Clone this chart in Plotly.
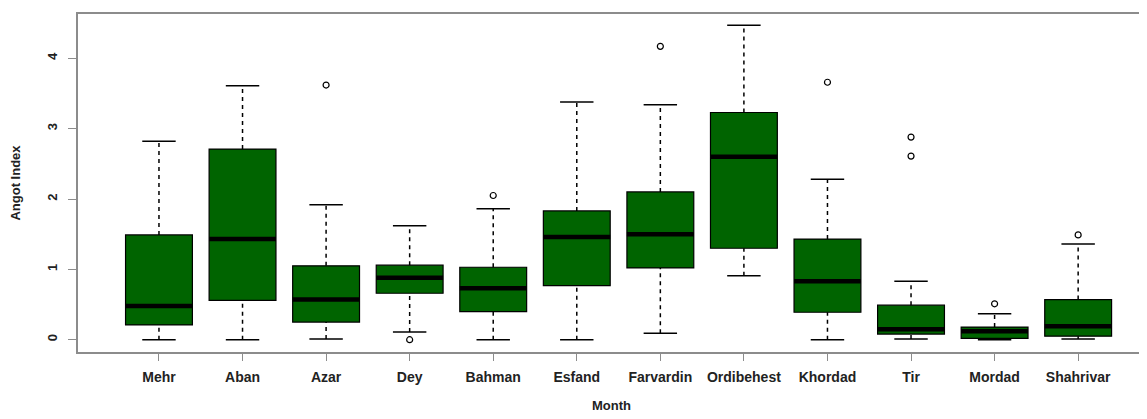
import plotly.graph_objects as go

months = ["Mehr", "Aban", "Azar", "Dey", "Bahman", "Esfand", "Farvardin",
          "Ordibehest", "Khordad", "Tir", "Mordad", "Shahrivar"]
lower_whisker = [0.00, 0.00, 0.01, 0.11, 0.00, 0.00, 0.09, 0.91, 0.00, 0.01, 0.00, 0.01]
q1 =            [0.21, 0.56, 0.25, 0.66, 0.40, 0.77, 1.02, 1.30, 0.39, 0.08, 0.02, 0.05]
median =        [0.48, 1.43, 0.57, 0.88, 0.73, 1.46, 1.50, 2.60, 0.83, 0.15, 0.12, 0.19]
q3 =            [1.49, 2.71, 1.05, 1.06, 1.03, 1.83, 2.10, 3.23, 1.43, 0.49, 0.18, 0.57]
upper_whisker = [2.82, 3.61, 1.92, 1.62, 1.86, 3.38, 3.34, 4.47, 2.28, 0.83, 0.37, 1.36]
outliers = {
    "Azar": [3.62],
    "Dey": [0.00],
    "Bahman": [2.05],
    "Farvardin": [4.17],
    "Khordad": [3.66],
    "Tir": [2.88, 2.61],
    "Mordad": [0.51],
    "Shahrivar": [1.49],
}
y_ticks = [0, 1, 2, 3, 4]

BOX_W = 0.8
CAP_W = 0.4
FILL = "#006400"

fig = go.Figure()
pos = list(range(1, len(months) + 1))

# boxes
for i, m in enumerate(months):
    fig.add_trace(go.Box(
        x=[pos[i]], q1=[q1[i]], median=[median[i]], q3=[q3[i]],
        lowerfence=[q1[i]], upperfence=[q3[i]],
        width=BOX_W, fillcolor=FILL, line=dict(color="black", width=1.2),
        boxpoints=False, showlegend=False, hoverinfo="skip",
    ))

# whiskers (dashed)
wx, wy = [], []
for i in range(len(months)):
    wx += [pos[i], pos[i], None, pos[i], pos[i], None]
    wy += [lower_whisker[i], q1[i], None, q3[i], upper_whisker[i], None]
fig.add_trace(go.Scatter(x=wx, y=wy, mode="lines",
                         line=dict(color="black", width=1.5, dash="4px,4px"),
                         showlegend=False, hoverinfo="skip"))

# caps
cx, cy = [], []
for i in range(len(months)):
    cx += [pos[i] - CAP_W / 2, pos[i] + CAP_W / 2, None,
           pos[i] - CAP_W / 2, pos[i] + CAP_W / 2, None]
    cy += [lower_whisker[i], lower_whisker[i], None,
           upper_whisker[i], upper_whisker[i], None]
fig.add_trace(go.Scatter(x=cx, y=cy, mode="lines",
                         line=dict(color="black", width=1.5),
                         showlegend=False, hoverinfo="skip"))

# thick medians
mx, my = [], []
for i in range(len(months)):
    mx += [pos[i] - BOX_W / 2, pos[i] + BOX_W / 2, None]
    my += [median[i], median[i], None]
fig.add_trace(go.Scatter(x=mx, y=my, mode="lines",
                         line=dict(color="black", width=4.5),
                         showlegend=False, hoverinfo="skip"))

# outliers
ox, oy = [], []
for m, vals in outliers.items():
    k = months.index(m) + 1
    for v in vals:
        ox.append(k)
        oy.append(v)
fig.add_trace(go.Scatter(x=ox, y=oy, mode="markers",
                         marker=dict(symbol="circle-open", size=6,
                                     color="black", line=dict(width=1.2)),
                         showlegend=False, hoverinfo="skip"))

fig.update_layout(
    width=1147, height=419,
    margin=dict(l=70, r=10, t=6, b=75, autoexpand=False),
    plot_bgcolor="white", paper_bgcolor="white",
    font=dict(family="Liberation Sans, Arial, sans-serif", color="#222222", size=14),
    xaxis=dict(
        range=[0.031, 12.80], automargin=False,
        tickmode="array", tickvals=pos, ticktext=months,
        showgrid=False, zeroline=False,
        showline=True, linecolor="#8c8c8c", linewidth=1.5, mirror=True,
        ticks="outside", ticklen=7, tickcolor="#8c8c8c", tickwidth=1,
        ticklabelstandoff=4,
        tickfont=dict(size=14, weight="bold"),
        title=dict(text="Month", font=dict(size=13, weight="bold"), standoff=17),
    ),
    yaxis=dict(
        range=[-0.175, 4.63], automargin=False,
        tickmode="array", tickvals=y_ticks, ticktext=[str(t) for t in y_ticks],
        tickangle=-90,
        showgrid=False, zeroline=False,
        showline=True, linecolor="#8c8c8c", linewidth=1.5, mirror=True,
        ticks="outside", ticklen=8, tickcolor="#8c8c8c", tickwidth=1,
        ticklabelstandoff=6,
        tickfont=dict(size=13, weight="bold"),
        title=dict(text="Angot Index", font=dict(size=13, weight="bold"), standoff=22),
    ),
)

fig.write_html("out.html")
